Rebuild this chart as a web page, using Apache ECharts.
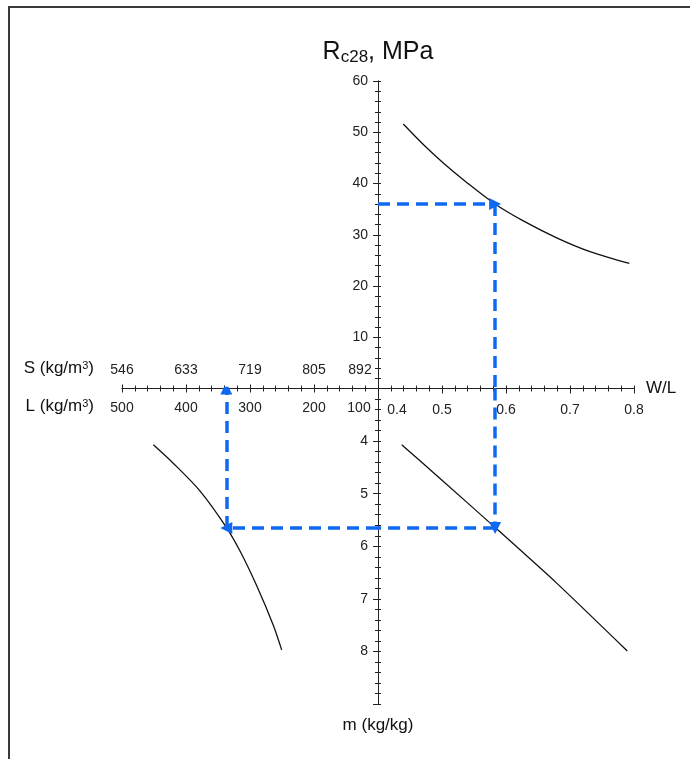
<!DOCTYPE html>
<html><head><meta charset="utf-8">
<script src="https://cdn.jsdelivr.net/npm/echarts@6/dist/echarts.min.js"></script>
<style>html,body{margin:0;padding:0;background:#fff}#c{width:690px;height:759px}</style>
</head><body><div id="c"></div>
<script>
// ---------- data ----------
const wlTicks = [0.4, 0.5, 0.6, 0.7, 0.8];          // W/L axis
const rcTicks = [0, 10, 20, 30, 40, 50, 60];         // Rc28, MPa
const mTicks = [3, 4, 5, 6, 7, 8, 9];                // m (kg/kg)
const lTicks = [100, 200, 300, 400, 500];            // L (kg/m3)
const sTicks = [546, 633, 719, 805, 892];            // S (kg/m3)

// Rc28 vs W/L curve
const rcCurveWL = [0.4395, 0.4708, 0.502, 0.5386, 0.5828, 0.627, 0.6792, 0.7313, 0.7927];
const rcCurveR  = [51.6, 47.6, 44.0, 40.2, 36.0, 32.7, 29.4, 26.7, 24.4];
// m vs W/L line
const mLineWL = [0.437, 0.4969, 0.5828, 0.6792, 0.7895];
const mLineM  = [4.07, 4.71, 5.64, 6.70, 7.99];
// m vs L curve
const lCurveL = [451, 420, 378, 337.5, 315.6, 289.5, 263.6, 250.5];
const lCurveM = [4.07, 4.42, 4.95, 5.63, 6.09, 6.75, 7.50, 7.97];
// worked example (blue dashed path)
const exRc = 36, exWL = 0.583, exM = 5.65, exL = 337;

// ---------- layout ----------
const X0 = 378, Y0 = 388.5, XW = 256, YT = 307.5, YB = 315.6, XL = 122;
const AX = '#222';
const FF = 'Liberation Sans, Arial, sans-serif';
const BLUE = '#0f68f2';

function axisCommon(extra) {
  const base = {
    type: 'value',
    splitLine: { show: false },
    axisLine: { show: true, onZero: false, lineStyle: { color: AX, width: 1 } },
    axisTick: { show: true, length: 5, lineStyle: { color: AX } },
    minorTick: { show: true, splitNumber: 5, length: 3, lineStyle: { color: AX } },
    axisLabel: { show: false }
  };
  return Object.assign(base, extra);
}
const lblStyle = { color: AX, fontSize: 14, fontFamily: FF };
const nameStyle = { color: '#111', fontSize: 17, fontFamily: FF };
const zip = (a, b) => a.map((v, i) => [v, b[i]]);

const chart = echarts.init(document.getElementById('c'), null, { renderer: 'canvas' });

const curveStyle = { color: '#111', width: 1.3 };
const dashStyle = { color: BLUE, width: 3.5, type: [12, 7], opacity: 1 };

const option = {
  animation: false,
  backgroundColor: '#fff',
  grid: [
    { left: XL, top: Y0 - YT, width: XW, height: YT, outerBoundsMode: 'none' },
    { left: X0, top: Y0 - YT, width: XW, height: YT, outerBoundsMode: 'none' },
    { left: XL, top: Y0, width: XW, height: YB, outerBoundsMode: 'none' },
    { left: X0, top: Y0, width: XW, height: YB, outerBoundsMode: 'none' }
  ],
  xAxis: [
    // 0: S axis (labels above the line)
    axisCommon({
      gridIndex: 0, position: 'bottom',
      min: sTicks[0], max: sTicks[sTicks.length - 1],
      interval: (sTicks[sTicks.length - 1] - sTicks[0]) / (sTicks.length - 1),
      axisTick: { show: true, length: 4, lineStyle: { color: AX } },
      axisLabel: Object.assign({
        show: true, inside: true, margin: 11,
        formatter: (v, i) => i === sTicks.length - 1 ? '{e|' + sTicks[i] + '}' : String(sTicks[i]),
        rich: { e: Object.assign({ padding: [0, 36, 0, 0] }, lblStyle) }
      }, lblStyle),
      name: '{a|S (kg/m}{b|3}{a|)}', nameLocation: 'start', nameGap: 28,
      nameTextStyle: {
        padding: [0, 0, 40, 0],
        rich: { a: Object.assign({}, nameStyle), b: Object.assign({}, nameStyle, { fontSize: 11, verticalAlign: 'top', lineHeight: 11 }) }
      }
    }),
    // 1: W/L axis (right half)
    axisCommon({
      gridIndex: 1, position: 'bottom',
      min: wlTicks[0], max: wlTicks[wlTicks.length - 1], interval: 0.1,
      axisLabel: Object.assign({
        show: true, margin: 15,
        formatter: v => Math.abs(v - wlTicks[0]) < 1e-9 ? '{f|' + v.toFixed(1) + '}' : v.toFixed(1),
        rich: { f: Object.assign({ padding: [0, 0, 0, 38] }, lblStyle) }
      }, lblStyle),
      name: 'W/L', nameLocation: 'end', nameGap: 12,
      nameTextStyle: nameStyle
    }),
    // 2: L axis (labels below line, inverse)
    axisCommon({
      gridIndex: 2, position: 'top', inverse: true,
      min: lTicks[0], max: lTicks[lTicks.length - 1], interval: 100,
      axisTick: { show: true, length: 4, lineStyle: { color: AX } },
      axisLabel: Object.assign({
        show: true, inside: true, margin: 13,
        formatter: v => v === lTicks[0] ? '{e|' + v + '}' : String(v),
        rich: { e: Object.assign({ padding: [0, 38, 0, 0] }, lblStyle) }
      }, lblStyle),
      name: '{a|L (kg/m}{b|3}{a|)}', nameLocation: 'end', nameGap: 28,
      nameTextStyle: {
        padding: [36, 0, 0, 0],
        rich: { a: Object.assign({}, nameStyle), b: Object.assign({}, nameStyle, { fontSize: 11, verticalAlign: 'top', lineHeight: 11 }) }
      }
    }),
    // 3: W/L mirror (ticks above line)
    axisCommon({
      gridIndex: 3, position: 'top',
      min: wlTicks[0], max: wlTicks[wlTicks.length - 1], interval: 0.1,
      axisTick: { show: true, length: 3, lineStyle: { color: AX } }
    })
  ],
  yAxis: [
    // 0: Rc mirror (ticks right of line)
    axisCommon({
      gridIndex: 0, position: 'right',
      min: rcTicks[0], max: rcTicks[rcTicks.length - 1], interval: 10,
      axisTick: { show: true, length: 3, lineStyle: { color: AX } }
    }),
    // 1: Rc28 axis
    axisCommon({
      gridIndex: 1, position: 'left',
      min: rcTicks[0], max: rcTicks[rcTicks.length - 1], interval: 10,
      axisLabel: Object.assign({
        show: true, margin: 10,
        formatter: v => v === rcTicks[0] ? '' : String(v)
      }, lblStyle),
      name: '{r|R}{s|c28}{r|, MPa}', nameLocation: 'end', nameGap: 15,
      nameTextStyle: {
        rich: {
          r: { fontSize: 25, fontFamily: FF, color: '#111', verticalAlign: 'top', lineHeight: 26 },
          s: { fontSize: 17, fontFamily: FF, color: '#111', verticalAlign: 'bottom', lineHeight: 17, padding: [16, 0, 0, 0] }
        }
      }
    }),
    // 2: m mirror (ticks right of line)
    axisCommon({
      gridIndex: 2, position: 'right', inverse: true,
      min: mTicks[0], max: mTicks[mTicks.length - 1], interval: 1,
      axisTick: { show: true, length: 3, lineStyle: { color: AX } }
    }),
    // 3: m axis
    axisCommon({
      gridIndex: 3, position: 'left', inverse: true,
      min: mTicks[0], max: mTicks[mTicks.length - 1], interval: 1,
      axisLabel: Object.assign({
        show: true, margin: 10,
        formatter: v => (v === mTicks[0] || v === mTicks[mTicks.length - 1]) ? '' : String(v)
      }, lblStyle),
      name: 'm (kg/kg)', nameLocation: 'end', nameGap: 13,
      nameTextStyle: nameStyle
    })
  ],
  graphic: [{
    type: 'polyline', silent: true,
    shape: { points: [[9, 759], [9, 7], [690, 7]] },
    style: { stroke: '#3a3a3a', lineWidth: 2, fill: null }
  }],
  series: [
    { type: 'line', xAxisIndex: 1, yAxisIndex: 1, data: zip(rcCurveWL, rcCurveR), smooth: 0.3,
      symbol: 'none', lineStyle: curveStyle, z: 3 },
    { type: 'line', xAxisIndex: 3, yAxisIndex: 3, data: zip(mLineWL, mLineM), smooth: 0.2,
      symbol: 'none', lineStyle: curveStyle, z: 3 },
    { type: 'line', xAxisIndex: 2, yAxisIndex: 2, data: zip(lCurveL, lCurveM), smooth: 0.3,
      symbol: 'none', lineStyle: curveStyle, z: 3 },
    // dashed path with arrows
    { type: 'lines', coordinateSystem: 'cartesian2d', xAxisIndex: 1, yAxisIndex: 1,
      symbol: ['none', 'triangle'], symbolSize: 12, lineStyle: dashStyle,
      data: [{ coords: [[wlTicks[0], exRc], [exWL, exRc]] }], z: 4 },
    { type: 'lines', coordinateSystem: 'cartesian2d', xAxisIndex: 1, yAxisIndex: 1,
      symbol: ['none', 'none'], lineStyle: dashStyle,
      data: [{ coords: [[exWL, exRc], [exWL, rcTicks[0]]] }], z: 4 },
    { type: 'lines', coordinateSystem: 'cartesian2d', xAxisIndex: 3, yAxisIndex: 3,
      symbol: ['none', 'triangle'], symbolSize: 12, lineStyle: dashStyle,
      data: [{ coords: [[exWL, mTicks[0]], [exWL, exM]] }], z: 4 },
    { type: 'lines', coordinateSystem: 'cartesian2d', xAxisIndex: 3, yAxisIndex: 3,
      symbol: ['none', 'none'], lineStyle: dashStyle,
      data: [{ coords: [[exWL, exM], [wlTicks[0], exM]] }], z: 4 },
    { type: 'lines', coordinateSystem: 'cartesian2d', xAxisIndex: 2, yAxisIndex: 2,
      symbol: ['none', 'triangle'], symbolSize: 12, lineStyle: dashStyle,
      data: [{ coords: [[lTicks[0], exM], [exL, exM]] }, { coords: [[exL, exM], [exL, mTicks[0]]] }], z: 4 }
  ]
};
chart.setOption(option);
</script>
</body></html>
